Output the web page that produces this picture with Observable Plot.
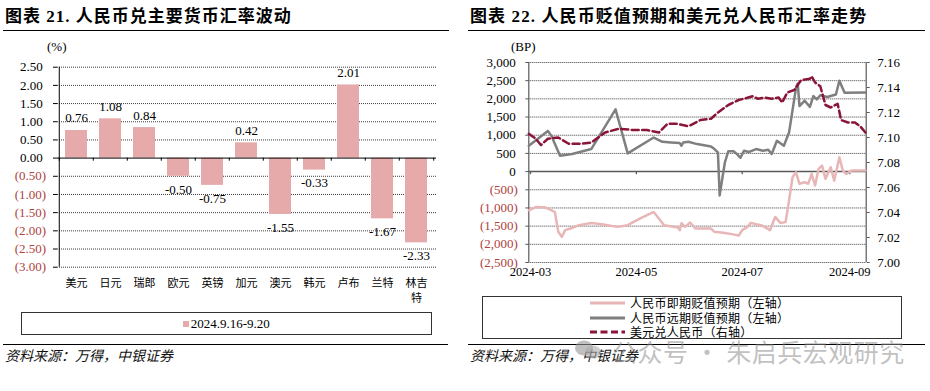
<!DOCTYPE html>
<html><head><meta charset="utf-8">
<script src="https://cdn.jsdelivr.net/npm/d3@7"></script>
<script src="https://cdn.jsdelivr.net/npm/@observablehq/plot@0.6"></script>
<style>
body{margin:0;width:930px;height:391px;position:relative;background:#fff;overflow:hidden;font-family:"Liberation Serif","Noto Sans CJK SC",serif;color:#000;}
.abs{position:absolute;white-space:nowrap;}
.title{font-family:"Liberation Serif","Noto Sans CJK SC",serif;font-weight:bold;font-size:17px;line-height:20px;}
.hr{position:absolute;height:0;border-top:1px solid #000;}
.src{font-family:"Noto Sans CJK SC",sans-serif;font-style:italic;font-size:14px;line-height:16px;color:#111;}
.unit{font-family:"Liberation Serif",serif;font-size:13px;line-height:14px;}
.leg{font-family:"Noto Sans CJK SC",sans-serif;font-size:12px;line-height:12px;letter-spacing:0.25px;}
</style></head><body>

<div class="abs title" style="left:5px;top:7px;letter-spacing:1px">图表 21. 人民币兑主要货币汇率波动</div>
<div class="hr" style="left:3px;top:30px;width:446px"></div>
<div class="abs title" style="left:470px;top:7px;letter-spacing:1.1px">图表 22. 人民币贬值预期和美元兑人民币汇率走势</div>
<div class="hr" style="left:468px;top:30px;width:457px"></div>

<div class="abs unit" style="left:47px;top:40px">(%)</div>
<div class="abs unit" style="left:511px;top:40px">(BP)</div>

<div id="left" class="abs" style="left:0;top:40px"></div>
<div id="right" class="abs" style="left:465px;top:40px"></div>

<div id="legL" class="abs" style="left:20.7px;top:312.3px;width:411.3px;height:23px;border:1px solid #333;box-sizing:border-box;display:flex;align-items:center;justify-content:center;font-family:'Liberation Serif',serif;font-size:13px;"></div>
<div id="legR" class="abs" style="left:482.3px;top:296px;width:419.4px;height:43.3px;border:1px solid #333;box-sizing:border-box;"></div>

<div class="hr" style="left:3px;top:344px;width:445px"></div>
<div class="hr" style="left:468px;top:344px;width:457px"></div>
<div class="abs src" style="left:5px;top:347px">资料来源：万得，中银证券</div>
<div class="abs src" style="left:470px;top:347px">资料来源：万得，中银证券</div>

<svg class="abs" style="left:574px;top:340px" width="30" height="20">
  <ellipse cx="10" cy="8" rx="9" ry="7.5" fill="rgba(150,150,150,0.6)"/>
  <ellipse cx="19" cy="12" rx="8" ry="6.5" fill="rgba(170,170,170,0.6)"/>
</svg>
<div class="abs" style="left:612px;top:336px;font-family:'Noto Sans CJK SC',sans-serif;font-size:25px;line-height:30px;color:rgba(140,140,140,0.55);letter-spacing:0.5px">公众号 · 朱启兵宏观研究</div>

<script>
// ---------- Chart 21 data ----------
const cats = ["美元","日元","瑞郎","欧元","英镑","加元","澳元","韩元","卢布","兰特","林吉特"];
const vals = [0.76, 1.08, 0.84, -0.50, -0.75, 0.42, -1.55, -0.33, 2.01, -1.67, -2.33];
const yTicksL = [2.5, 2, 1.5, 1, 0.5, 0, -0.5, -1, -1.5, -2, -2.5, -3];
const legendL = "2024.9.16-9.20";

// ---------- Chart 22 data ----------
const seriesNames = ["人民币即期贬值预期（左轴）","人民币远期贬值预期（左轴）","美元兑人民币（右轴）"];
const xTickLabels = ["2024-03","2024-05","2024-07","2024-09"];
const yTicksR = [3000, 2500, 2000, 1500, 1000, 500, 0, -500, -1000, -1500, -2000, -2500];
const rTicks = [7.16, 7.14, 7.12, 7.10, 7.08, 7.06, 7.04, 7.02, 7.00];

const spotDates = ["2024-02-29","2024-03-04","2024-03-09","2024-03-12","2024-03-15","2024-03-17","2024-03-19","2024-03-21","2024-03-24","2024-03-29","2024-04-05","2024-04-12","2024-04-20","2024-04-26","2024-05-03","2024-05-11","2024-05-17","2024-05-25","2024-05-26","2024-05-27","2024-05-29","2024-06-01","2024-06-04","2024-06-13","2024-06-15","2024-06-20","2024-06-25","2024-06-29","2024-07-01","2024-07-04","2024-07-06","2024-07-09","2024-07-12","2024-07-17","2024-07-20","2024-07-23","2024-07-26","2024-07-28","2024-07-30","2024-08-01","2024-08-03","2024-08-06","2024-08-08","2024-08-10","2024-08-12","2024-08-14","2024-08-16","2024-08-18","2024-08-21","2024-08-23","2024-08-26","2024-08-28","2024-08-30","2024-09-02","2024-09-10"];
const spotVals = [-1065,-975,-980,-1037,-1111,-1657,-1794,-1611,-1566,-1474,-1411,-1456,-1520,-1474,-1293,-1111,-1474,-1540,-1611,-1420,-1520,-1400,-1566,-1566,-1657,-1684,-1720,-1760,-1611,-1520,-1411,-1450,-1474,-1611,-1247,-1411,-1390,-792,-156,-19,-336,-292,-336,-63,-382,74,164,-199,120,-250,391,27,-63,27,27];

const fwdDates = ["2024-02-29","2024-03-11","2024-03-13","2024-03-18","2024-03-25","2024-04-05","2024-04-19","2024-04-26","2024-05-11","2024-05-16","2024-05-21","2024-05-26","2024-05-27","2024-05-28","2024-05-31","2024-06-05","2024-06-13","2024-06-15","2024-06-17","2024-06-18","2024-06-21","2024-06-23","2024-06-26","2024-06-28","2024-06-30","2024-07-02","2024-07-05","2024-07-09","2024-07-13","2024-07-16","2024-07-18","2024-07-21","2024-07-25","2024-07-28","2024-08-01","2024-08-02","2024-08-03","2024-08-06","2024-08-09","2024-08-11","2024-08-13","2024-08-15","2024-08-19","2024-08-24","2024-08-26","2024-08-29","2024-09-10"];
const fwdVals = [710,1119,983,437,483,620,1711,500,937,819,800,783,710,800,819,756,691,620,527,-655,250,560,560,480,380,573,540,620,573,600,483,846,710,1073,2302,2420,1802,1950,1780,2075,1985,2100,2050,2121,2500,2165,2175];

const fxDates = ["2024-02-29","2024-03-04","2024-03-07","2024-03-11","2024-03-17","2024-03-23","2024-03-30","2024-04-05","2024-04-13","2024-04-21","2024-04-29","2024-05-07","2024-05-14","2024-05-19","2024-05-24","2024-05-31","2024-06-07","2024-06-13","2024-06-17","2024-06-23","2024-06-29","2024-07-02","2024-07-07","2024-07-10","2024-07-14","2024-07-18","2024-07-22","2024-07-24","2024-07-27","2024-07-31","2024-08-04","2024-08-09","2024-08-10","2024-08-12","2024-08-15","2024-08-18","2024-08-21","2024-08-25","2024-08-27","2024-08-31","2024-09-04","2024-09-07","2024-09-10"];
const fxVals = [7.103,7.099,7.094,7.099,7.100,7.095,7.095,7.096,7.104,7.107,7.106,7.106,7.104,7.111,7.111,7.109,7.114,7.115,7.120,7.126,7.130,7.131,7.133,7.131,7.132,7.131,7.132,7.128,7.136,7.138,7.146,7.147,7.149,7.144,7.141,7.126,7.124,7.127,7.114,7.112,7.112,7.109,7.104];

// ---------- styles ----------
const barColor = "#e6aaaa";
const negColor = "#b0413e";
const pinkLine = "#e8b6b6";
const grayLine = "#7f7f7f";
const fxColor = "#8b1538";
const gridStyle = {stroke:"#3c3c3c", strokeDasharray:"1,1", strokeWidth:1};
const serif = '"Liberation Serif","Noto Sans CJK SC",serif';

// ---------- Chart 21 ----------
const wL = 460, mlL = 57, mrL = 24;
const stepL = (wL - mlL - mrL) / cats.length;
const barData = cats.map((c, i) => ({c, v: vals[i]}));
const left = Plot.plot({
  width: wL, height: 265, marginLeft: mlL, marginRight: mrL, marginTop: 26.7, marginBottom: 38.3,
  style: {fontFamily: serif, fontSize: "13px", background: "transparent", color: "#000", overflow: "visible"},
  x: {domain: cats, paddingInner: 0.34, paddingOuter: 0.17, axis: null, label: null},
  y: {domain: [-3, 2.5], axis: null, label: null},
  marks: [
    Plot.ruleY(yTicksL.filter(d => d !== 0), gridStyle),
    Plot.barY(barData, {x: "c", y: "v", fill: barColor}),
    Plot.ruleY([0], {stroke: "#000", strokeWidth: 1}),
    Plot.ruleX(cats, {x: d => d, dx: -stepL / 2, y1: 0, y2: -0.085, stroke: "#000"}),
    Plot.ruleX([cats[cats.length - 1]], {x: d => d, dx: stepL / 2, y1: 0, y2: -0.085, stroke: "#000"}),
    Plot.ruleX([cats[0]], {x: d => d, dx: -stepL / 2, y1: -3, y2: 2.5, stroke: "#000"}),
    Plot.axisY(yTicksL, {tickSize: 4, tickFormat: () => "", stroke: "#000", label: null}),
    Plot.axisY(yTicksL.filter(d => d >= 0), {tickSize: 0, tickPadding: 14.7, tickFormat: d => d.toFixed(2), fill: "#000", fontSize: 13, label: null}),
    Plot.axisY(yTicksL.filter(d => d < 0), {tickSize: 0, tickPadding: 11.3, tickFormat: d => `(${Math.abs(d).toFixed(2)})`, fill: negColor, fontSize: 13, label: null}),
    Plot.axisX(cats, {tickSize: 0, tickPadding: 9, fontFamily: "Noto Sans CJK SC", fontSize: 11, lineHeight: 1.36, label: null,
      tickFormat: d => d.length > 2 ? d.slice(0, 2) + "\n" + d.slice(2) : d}),
    Plot.text(barData.filter(d => d.v >= 0), {x: "c", y: "v", text: d => d.v.toFixed(2), lineAnchor: "bottom", dy: -8, fontSize: 13, fill: "#000"}),
    Plot.text(barData.filter(d => d.v < 0), {x: "c", y: "v", text: d => d.v.toFixed(2), lineAnchor: "top", dy: 8, fontSize: 13, fill: "#000"})
  ]
});
document.getElementById("left").appendChild(left);

// legend left
{
  const box = document.getElementById("legL");
  const sq = document.createElement("span");
  sq.style.cssText = `display:inline-block;width:6px;height:6px;background:${barColor};margin-right:2px;`;
  const tx = document.createElement("span");
  tx.textContent = legendL;
  box.appendChild(sq); box.appendChild(tx);
}

// ---------- Chart 22 ----------
const parse = s => new Date(s + "T00:00:00Z");
const spot = spotDates.map((d, i) => ({date: parse(d), v: spotVals[i]}));
const fwd = fwdDates.map((d, i) => ({date: parse(d), v: fwdVals[i]}));
const fx = fxDates.map((d, i) => ({date: parse(d), v: fxVals[i]}));
const monthTicks = xTickLabels.map(s => parse(s + "-01"));
const xDomain = [new Date("2024-02-29T00:00:00Z"), new Date("2024-09-10T11:00:00Z")];
const fxToLeft = d3.scaleLinear([7.00, 7.16], [-2500, 3000]);
const axisGray = "#595959";
const fmtL = d3.format(",");

const right = Plot.plot({
  width: 465, height: 245, marginLeft: 63.3, marginRight: 64.3, marginTop: 22, marginBottom: 23,
  style: {fontFamily: serif, fontSize: "13px", background: "transparent", color: "#000", overflow: "visible"},
  x: {type: "utc", domain: xDomain, axis: null, label: null},
  y: {domain: [-2500, 3000], axis: null, label: null},
  marks: [
    Plot.ruleY(yTicksR.filter(d => d !== 0), gridStyle),
    Plot.ruleY([0], {stroke: axisGray, strokeWidth: 1.5}),
    Plot.ruleX(monthTicks, {y1: 0, y2: -85, stroke: axisGray, strokeWidth: 1.2}),
    Plot.ruleX([xDomain[0]], {y1: -2500, y2: 3000, stroke: axisGray, strokeWidth: 1.2}),
    Plot.ruleX([xDomain[1]], {y1: -2500, y2: 3000, stroke: axisGray, strokeWidth: 1.2}),
    Plot.lineY(spot, {x: "date", y: "v", stroke: pinkLine, strokeWidth: 2.5}),
    Plot.lineY(fwd, {x: "date", y: "v", stroke: grayLine, strokeWidth: 2.5}),
    Plot.lineY(fx, {x: "date", y: d => fxToLeft(d.v), stroke: fxColor, strokeWidth: 2.5, strokeDasharray: "7,3.5"}),
    Plot.axisY(yTicksR, {tickSize: 3, tickFormat: () => "", stroke: axisGray, label: null}),
    Plot.axisY(yTicksR.filter(d => d >= 0), {tickSize: 0, tickPadding: 13, tickFormat: d => fmtL(d), fill: "#000", fontSize: 13, label: null}),
    Plot.axisY(yTicksR.filter(d => d < 0), {tickSize: 0, tickPadding: 11, tickFormat: d => `(${fmtL(Math.abs(d))})`, fill: negColor, fontSize: 13, label: null}),
    Plot.axisY(rTicks.map(v => fxToLeft(v)), {anchor: "right", tickSize: 3, tickPadding: 8, stroke: axisGray, fill: "#000", fontSize: 13, label: null,
      tickFormat: d => fxToLeft.invert(d).toFixed(2)}),
    Plot.axisX(monthTicks, {tickSize: 0, tickPadding: 5, tickFormat: d3.utcFormat("%Y-%m"), fontSize: 12.5, label: null})
  ]
});
document.getElementById("right").appendChild(right);

// legend right
{
  const box = document.getElementById("legR");
  const styles = [
    {stroke: pinkLine, dash: null},
    {stroke: grayLine, dash: null},
    {stroke: fxColor, dash: "7,3.5"}
  ];
  const rowsY = [7.3, 21.7, 35.7];
  seriesNames.forEach((name, i) => {
    const svgNS = "http://www.w3.org/2000/svg";
    const svg = document.createElementNS(svgNS, "svg");
    svg.setAttribute("width", "36"); svg.setAttribute("height", "6");
    svg.style.cssText = `position:absolute;left:106.7px;top:${rowsY[i] - 4}px;`;
    const ln = document.createElementNS(svgNS, "line");
    ln.setAttribute("x1", "0"); ln.setAttribute("x2", "35"); ln.setAttribute("y1", "3"); ln.setAttribute("y2", "3");
    ln.setAttribute("stroke", styles[i].stroke); ln.setAttribute("stroke-width", "3");
    if (styles[i].dash) ln.setAttribute("stroke-dasharray", styles[i].dash);
    svg.appendChild(ln);
    box.appendChild(svg);
    const t = document.createElement("div");
    t.className = "leg";
    t.textContent = name;
    t.style.cssText = `position:absolute;left:146.7px;top:${rowsY[i] - 7}px;white-space:nowrap;`;
    box.appendChild(t);
  });
}
</script>
</body></html>
